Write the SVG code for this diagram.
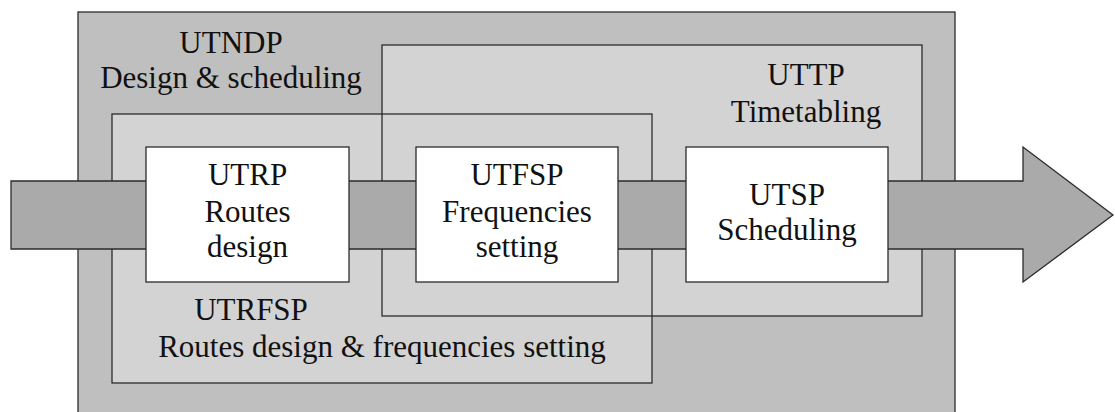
<svg xmlns="http://www.w3.org/2000/svg" width="1115" height="412" viewBox="0 0 1115 412">
  <style>
    .frame { stroke: #2b2b2b; stroke-width: 1.3; }
    .outer { fill: #bfbfbf; }
    .inner { fill: #d3d3d3; }
    .edge { fill: none; }
    .flow { fill: #aaaaaa; stroke: #2b2b2b; stroke-width: 1.3; stroke-linejoin: miter; }
    .box { fill: #ffffff; stroke: #2b2b2b; stroke-width: 1.3; }
    .lbl { font-family: "Liberation Serif", "Times New Roman", serif; font-size: 31px; fill: #111; text-anchor: middle; }
  </style>

  <!-- UTNDP: whole design & scheduling area -->
  <g id="utndp">
    <rect class="frame outer" x="78" y="12" width="877" height="420"/>
    <text class="lbl" x="231" y="53">UTNDP</text>
    <text class="lbl" x="231" y="88">Design &amp; scheduling</text>
  </g>

  <!-- overlapping sub-problem areas: fills first, then both outlines -->
  <g id="uttp">
    <rect class="inner" x="382" y="45" width="540" height="271"/>
  </g>
  <g id="utrfsp">
    <rect class="inner" x="112" y="114" width="540" height="269"/>
  </g>
  <g id="area-outlines">
    <rect class="frame edge" x="382" y="45" width="540" height="271"/>
    <rect class="frame edge" x="112" y="114" width="540" height="269"/>
  </g>
  <g id="area-labels">
    <text class="lbl" x="806" y="85">UTTP</text>
    <text class="lbl" x="806" y="122">Timetabling</text>
    <text class="lbl" x="251" y="320">UTRFSP</text>
    <text class="lbl" x="382" y="357">Routes design &amp; frequencies setting</text>
  </g>

  <!-- process flow arrow -->
  <g id="connectors">
    <path class="flow" d="M11,181 H1023 V147 L1113,215 L1023,282 V249 H11 Z"/>
  </g>

  <!-- stages -->
  <g id="utrp">
    <rect class="box" x="146" y="147" width="203" height="135"/>
    <text class="lbl" x="247.5" y="185">UTRP</text>
    <text class="lbl" x="247.5" y="222">Routes</text>
    <text class="lbl" x="247.5" y="257">design</text>
  </g>
  <g id="utfsp">
    <rect class="box" x="416" y="147" width="202" height="135"/>
    <text class="lbl" x="517" y="185">UTFSP</text>
    <text class="lbl" x="517" y="222">Frequencies</text>
    <text class="lbl" x="517" y="257">setting</text>
  </g>
  <g id="utsp">
    <rect class="box" x="686" y="147" width="202" height="135"/>
    <text class="lbl" x="787" y="205">UTSP</text>
    <text class="lbl" x="787" y="240">Scheduling</text>
  </g>
</svg>
